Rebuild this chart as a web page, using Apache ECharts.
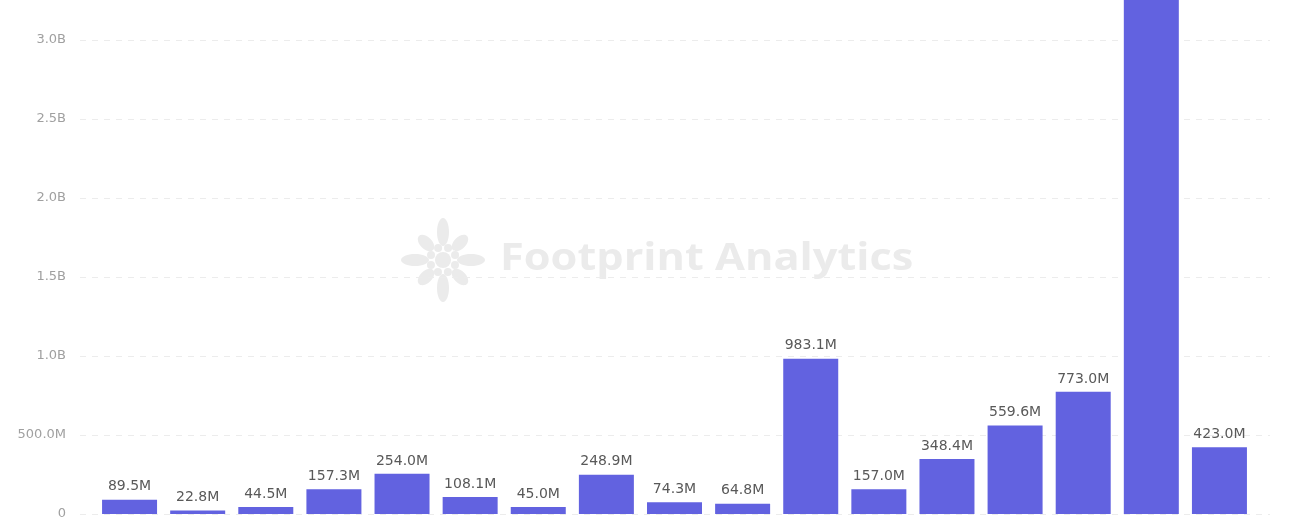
<!DOCTYPE html>
<html><head><meta charset="utf-8">
<script src="https://cdn.jsdelivr.net/npm/echarts@6/dist/echarts.min.js"></script>
<style>html,body{margin:0;padding:0;background:#fff}#c{width:1299px;height:519px}</style>
</head><body><div id="c"></div>
<script>
const categories = ['1','2','3','4','5','6','7','8','9','10','11','12','13','14','15','16','17'];
const values = [89.5e6, 22.8e6, 44.5e6, 157.3e6, 254.0e6, 108.1e6, 45.0e6, 248.9e6, 74.3e6, 64.8e6, 983.1e6, 157.0e6, 348.4e6, 559.6e6, 773.0e6, 3400e6, 423.0e6];
const yTicks = [0, 500e6, 1000e6, 1500e6, 2000e6, 2500e6, 3000e6, 3500e6];

function fmt(v){
  if (v === 0) return '0';
  if (v >= 1e9) return (v/1e9).toFixed(1) + 'B';
  return (v/1e6).toFixed(1) + 'M';
}
const chart = echarts.init(document.getElementById('c'));
const petals = [];
const cx = 443, cy = 260;
const ang = [0, 45, 90, 135, 180, 225, 270, 315];
ang.forEach((a, i) => {
  const r = (i % 2 === 0) ? 28 : 24;
  const rad = a * Math.PI / 180;
  const px = cx + r*Math.cos(rad), py = cy + r*Math.sin(rad);
  petals.push({type:'ellipse', shape:{cx: px, cy: py, rx: (i%2===0)?14:10, ry: 6},
    rotation: -rad, originX: px, originY: py,
    style:{fill:'#ebebeb'}, z: 0});
  petals.push({type:'circle', shape:{cx: cx + 13*Math.cos(rad+0.4), cy: cy + 13*Math.sin(rad+0.4), r: 4}, style:{fill:'#ebebeb'}, z:0});
});
petals.push({type:'circle', shape:{cx: cx, cy: cy, r: 8}, style:{fill:'#ebebeb'}, z:0});
chart.setOption({
  animation: false,
  graphic: petals.concat([
    {type:'text', x: 500, y: 240, scaleX: 1.14, z: 0,
     style:{text:'Footprint Analytics', fill:'#ebebeb', font:'bold 38px "Open Sans", sans-serif'}}
  ]),
  grid: [
    {left: 80, right: 29, top: -39, bottom: 5, outerBoundsMode: 'none', containLabel: false},
    {left: 95.5, right: 45.5, top: -39, bottom: 5, outerBoundsMode: 'none', containLabel: false}
  ],
  xAxis: [
    {type:'category', gridIndex:0, data: categories, show: true,
     axisLine:{show:false}, axisTick:{show:false}, axisLabel:{show:false}},
    {type:'category', gridIndex:1, data: categories,
     axisLine:{show:false}, axisTick:{show:false}, axisLabel:{show:false}}
  ],
  yAxis: [
    {type:'value', gridIndex:0, min:0, max:3500e6, interval:500e6,
     axisLine:{show:false}, axisTick:{show:false},
     axisLabel:{color:'#a0a0a0', fontSize:13, margin:14, fontFamily:'DejaVu Sans, sans-serif', formatter: v => fmt(v)},
     splitLine:{lineStyle:{color:'#ececec', type:[6,6]}}},
    {type:'value', gridIndex:1, min:0, max:3500e6, interval:500e6, show:false, splitLine:{show:false}}
  ],
  series: [{
    type:'bar', xAxisIndex:1, yAxisIndex:1, data: values, barWidth: 55,
    itemStyle:{color:'#6262e0'},
    label:{show:true, position:'top', distance:6, color:'#595959', fontSize:14, fontFamily:'DejaVu Sans, sans-serif', formatter: p => fmt(p.value)},
    z: 2
  }]
});
</script></body></html>
